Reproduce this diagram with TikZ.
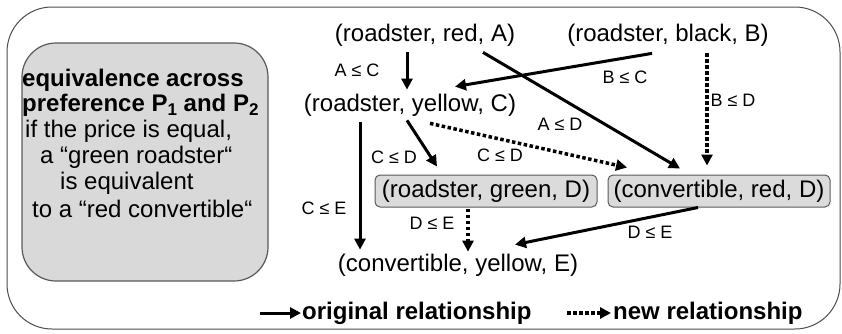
\documentclass[tikz,border=0pt]{standalone}
\usepackage{fontspec}
\setmainfont{Liberation Sans}
\usetikzlibrary{arrows.meta}
\begin{document}
\begin{tikzpicture}[x=1pt,y=-1pt,
  state/.style={font=\fontsize{24}{28}\selectfont, inner sep=2pt},
  dbox/.style={font=\fontsize{24}{28}\selectfont, draw=black!65, fill=black!14, rounded corners=5pt,
               minimum width=222pt, minimum height=32pt, inner sep=0pt, line width=1pt},
  lbl/.style={font=\fontsize{18}{20}\selectfont, inner sep=0pt},
  note/.style={font=\fontsize{24}{28}\selectfont, inner sep=0pt, anchor=west},
  legend/.style={font=\fontsize{24}{28}\selectfont\bfseries, inner sep=0pt, anchor=west},
  solidarrow/.style={line width=3pt, -{Triangle[length=11pt,width=11pt]}},
  dotarrow/.style={line width=3.5pt, dash pattern=on 3.5pt off 2.5pt, -{Triangle[length=11pt,width=11pt]}}
]
\useasboundingbox (0,0) rectangle (842,333);
% outer frame
\draw[black!70, line width=1pt, rounded corners=45pt] (7,7) rectangle (840,329);
% left note box
\node[draw=black!65, fill=black!15, line width=1.2pt, rounded corners=34pt,
      minimum width=246pt, minimum height=238pt, inner sep=0pt] (notebox) at (145,162) {};
\node[note, font=\fontsize{24}{28}\selectfont\bfseries] (n1) at (22,80) {equivalence across};
\node[note, font=\fontsize{24}{28}\selectfont\bfseries] (n2) at (22,105)
  {preference P\raisebox{-0.35ex}{\fontsize{17}{17}\selectfont 1} and P\raisebox{-0.35ex}{\fontsize{17}{17}\selectfont 2}};
\node[note] (n3) at (25,131) {if the price is equal,};
\node[note] (n4) at (40,157) {a “green roadster“};
\node[note] (n5) at (60,183) {is equivalent};
\node[note] (n6) at (32,209) {to a “red convertible“};

% states
\node[state] (A) at (425,35) {(roadster, red, A)};
\node[state] (B) at (668,35) {(roadster, black, B)};
\node[state] (C) at (410,105) {(roadster, yellow, C)};
\node[dbox] (D1) at (486,191) {(roadster, green, D)};
\node[dbox] (D2) at (719,191) {(convertible, red, D)};
\node[state] (E) at (458,265) {(convertible, yellow, E)};

% connectors
\draw[solidarrow] ([xshift=-18pt,yshift=-4pt]A.south) -- ([xshift=-3pt,yshift=2pt]C.north);
\draw[solidarrow] ([xshift=-16pt,yshift=-5pt]B.south) -- ([xshift=45pt,yshift=5pt]C.north);
\draw[solidarrow] ([xshift=58pt,yshift=-4pt]A.south) -- ([xshift=-39pt,yshift=6pt]D2.north);
\draw[dotarrow]   ([xshift=39pt,yshift=-5pt]B.south) -- ([xshift=-12pt,yshift=9pt]D2.north);
\draw[solidarrow] ([xshift=-3pt,yshift=-2pt]C.south) -- ([xshift=-49pt,yshift=8pt]D1.north);
\draw[dotarrow]   ([xshift=20pt,yshift=-5pt]C.south) -- ([xshift=-92pt,yshift=7pt]D2.north);
\draw[solidarrow] ([xshift=-50pt,yshift=-4pt]C.south) -- ([xshift=-98pt,yshift=2pt]E.north);
\draw[dotarrow]   ([xshift=-18pt,yshift=-1pt]D1.south) -- ([xshift=10pt,yshift=0pt]E.north);
\draw[solidarrow] ([xshift=-21pt]D2.south) -- ([xshift=57pt,yshift=7pt]E.north);

% labels
\node[lbl] (lAC) at (357,70) {A ≤ C};
\node[lbl] (lBC) at (625,77) {B ≤ C};
\node[lbl] (lBD) at (733,100) {B ≤ D};
\node[lbl] (lAD) at (560,124) {A ≤ D};
\node[lbl] (lCD1) at (394,157) {C ≤ D};
\node[lbl] (lCD2) at (500,155) {C ≤ D};
\node[lbl] (lCE) at (324,208) {C ≤ E};
\node[lbl] (lDE1) at (432,223) {D ≤ E};
\node[lbl] (lDE2) at (650,232) {D ≤ E};

% legend
\coordinate (legS) at (260,313);
\node[legend] (L1) at (302,313) {original relationship};
\draw[solidarrow] (legS) -- ([xshift=-1pt]L1.west);
\coordinate (legD) at (567,313);
\node[legend] (L2) at (613,313) {new relationship};
\draw[dotarrow] (legD) -- ([xshift=-2pt]L2.west);
\end{tikzpicture}
\end{document}
